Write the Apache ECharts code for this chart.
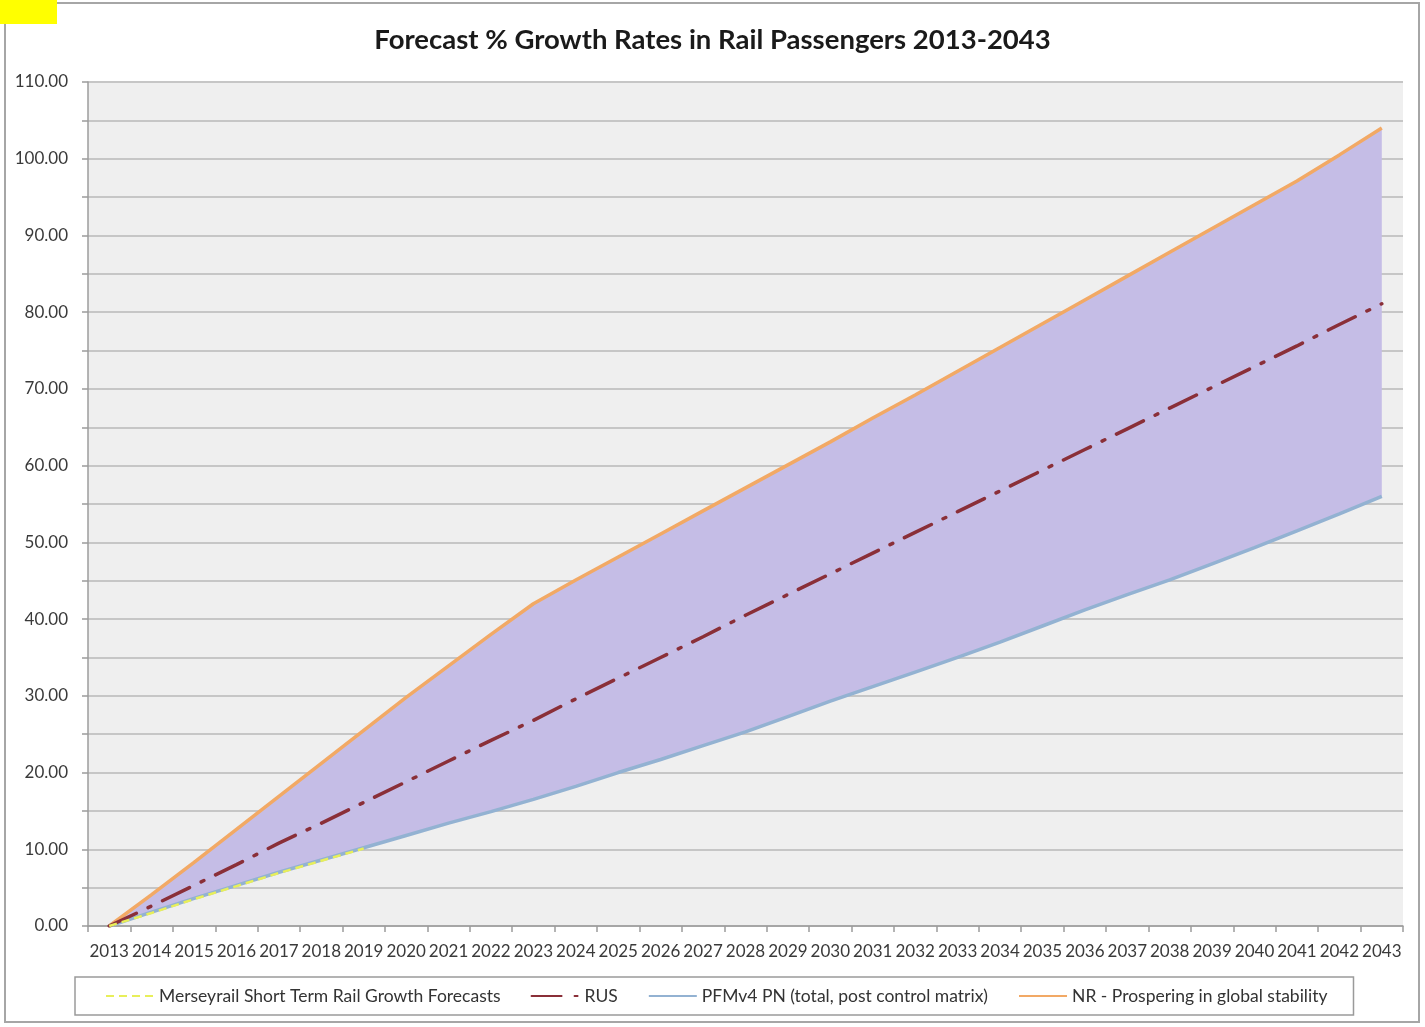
<!DOCTYPE html>
<html>
<head>
<meta charset="utf-8">
<script src="https://cdn.jsdelivr.net/npm/echarts@6/dist/echarts.min.js"></script>
<style>
html,body{margin:0;padding:0;background:#fff;}
#chart{width:1425px;height:1027px;}
</style>
</head>
<body>
<div id="chart"></div>
<script>
const years = ['2013','2014','2015','2016','2017','2018','2019','2020','2021','2022','2023','2024','2025','2026','2027','2028','2029','2030','2031','2032','2033','2034','2035','2036','2037','2038','2039','2040','2041','2042','2043'];
const merseyrail = [0, 1.7, 3.5, 5.2, 6.9, 8.5, 10.1, null, null, null, null, null, null, null, null, null, null, null, null, null, null, null, null, null, null, null, null, null, null, null, null];
const rus = [0, 2.6, 5.3, 8.0, 10.8, 13.4, 16.1, 18.8, 21.5, 24.2, 26.8, 29.6, 32.3, 35.0, 37.7, 40.5, 43.2, 45.9, 48.6, 51.3, 54.0, 56.7, 59.4, 62.1, 64.8, 67.5, 70.2, 72.9, 75.6, 78.4, 81.1];
const pfm = [0, 1.8, 3.6, 5.3, 7.0, 8.6, 10.2, 11.8, 13.4, 14.9, 16.5, 18.2, 20.0, 21.7, 23.5, 25.3, 27.3, 29.3, 31.2, 33.1, 35.0, 37.0, 39.1, 41.2, 43.2, 45.1, 47.2, 49.3, 51.5, 53.7, 56.0];
const nr = [0, 4.1, 8.3, 12.6, 16.9, 21.2, 25.5, 29.8, 33.9, 38.0, 42.0, 45.1, 48.1, 51.1, 54.1, 57.1, 60.1, 63.1, 66.2, 69.2, 72.3, 75.4, 78.5, 81.6, 84.7, 87.8, 90.9, 94.0, 97.1, 100.5, 104.0];
const names = ['Merseyrail Short Term Rail Growth Forecasts', 'RUS', 'PFMv4 PN (total, post control matrix)', 'NR - Prospering in global stability'];

const band = nr.map((v, i) => +(v - pfm[i]).toFixed(2));

const chart = echarts.init(document.getElementById('chart'), null, {renderer: 'canvas'});
const font = 'Lato, "Open Sans", sans-serif';
chart.setOption({
  animation: false,
  backgroundColor: '#ffffff',
  graphic: [
    {type: 'rect', shape: {x: 0, y: 0, width: 57, height: 24}, style: {fill: '#ffff00'}, z: 0},
    {type: 'rect', shape: {x: 5, y: 3, width: 1414, height: 1019}, style: {fill: '#ffffff', stroke: '#a6a6a6', lineWidth: 2}, z: -1, silent: true}
  ],
  title: {
    text: 'Forecast % Growth Rates in Rail Passengers 2013-2043',
    left: 'center',
    top: 21,
    textStyle: {fontFamily: font, fontWeight: 'bold', fontSize: 27.5, color: '#1a1a1a'}
  },
  grid: {
    left: 88, right: 22, top: 82, bottom: 101,
    show: true, backgroundColor: '#efefef', borderWidth: 0
  },
  legend: {
    data: names,
    left: 75, top: 977,
    padding: [10, 26, 10, 30],
    itemGap: 30,
    itemWidth: 48,
    itemHeight: 14,
    borderColor: '#9a9a9a',
    borderWidth: 1.5,
    backgroundColor: '#ffffff',
    itemStyle: {opacity: 0},
    textStyle: {fontFamily: font, fontSize: 17.5, color: '#333333'}
  },
  xAxis: {
    type: 'category',
    data: years,
    boundaryGap: true,
    axisLine: {show: true, lineStyle: {color: '#9c9c9c', width: 1.5}},
    axisTick: {show: true, length: 6, lineStyle: {color: '#9c9c9c', width: 1.5}},
    axisLabel: {interval: 0, margin: 17, fontFamily: font, fontSize: 17, color: '#3a3a3a'},
    splitLine: {show: false}
  },
  yAxis: {
    type: 'value',
    min: 0, max: 110, interval: 5,
    axisLine: {show: true, lineStyle: {color: '#9c9c9c', width: 1.5}},
    axisTick: {show: true, length: 6, lineStyle: {color: '#9c9c9c', width: 1.5}},
    axisLabel: {
      margin: 20, fontFamily: font, fontSize: 17, color: '#3a3a3a',
      formatter: v => (v % 10 === 0 ? v.toFixed(2) : '')
    },
    splitLine: {show: true, lineStyle: {color: '#c6c6c6', width: 2}}
  },
  series: [
    {
      name: 'base', type: 'line', stack: 'band', data: pfm,
      symbol: 'none', lineStyle: {opacity: 0}, silent: true, z: 1
    },
    {
      name: 'bandfill', type: 'line', stack: 'band', data: band,
      symbol: 'none', lineStyle: {opacity: 0}, areaStyle: {color: '#c5bde6', opacity: 1}, silent: true, z: 1
    },
    {
      name: names[3], type: 'line', data: nr, symbol: 'none',
      lineStyle: {color: '#f2a965', width: 3.5}, itemStyle: {color: '#f2a965'}, z: 3
    },
    {
      name: names[1], type: 'line', data: rus, symbol: 'none',
      lineStyle: {color: '#8a2f38', width: 3.5, type: [30, 13, 3, 13], cap: 'round'}, itemStyle: {color: '#8a2f38'}, z: 4
    },
    {
      name: names[2], type: 'line', data: pfm, symbol: 'none',
      lineStyle: {color: '#93b2d2', width: 3.5}, itemStyle: {color: '#93b2d2'}, z: 3
    },
    {
      name: names[0], type: 'line', data: merseyrail, symbol: 'none', connectNulls: false,
      lineStyle: {color: '#e8ef5a', width: 2.5, type: [8, 5]}, itemStyle: {color: '#e8ef5a'}, z: 5
    }
  ]
});
</script>
</body>
</html>
